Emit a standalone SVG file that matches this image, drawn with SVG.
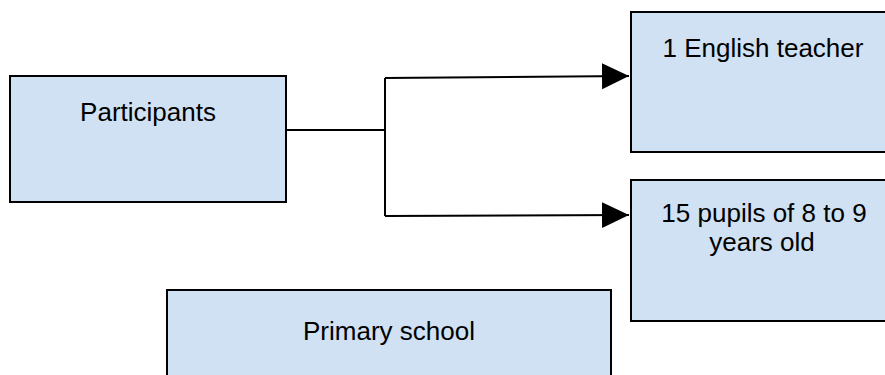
<svg xmlns="http://www.w3.org/2000/svg" width="885" height="375" viewBox="0 0 885 375">
  <style>
    .box { fill: #cfe1f3; stroke: #000; stroke-width: 2; }
    .label { font-family: "Liberation Sans", Arial, sans-serif; font-size: 26px; fill: #000; text-anchor: middle; }
    .wire { fill: none; stroke: #000; stroke-width: 2; }
  </style>
  <defs>
    <marker id="arrow" markerUnits="userSpaceOnUse" markerWidth="27" markerHeight="27" refX="27" refY="13" orient="auto">
      <path d="M0,0 L27,13 L0,26 Z" fill="#000"/>
    </marker>
  </defs>

  <g id="participants">
    <rect class="box" x="10" y="76" width="276" height="126"/>
    <text class="label" x="148" y="121">Participants</text>
  </g>

  <g id="teacher">
    <rect class="box" x="631" y="12" width="270" height="140"/>
    <text class="label" x="763" y="57">1 English teacher</text>
  </g>

  <g id="pupils">
    <rect class="box" x="631" y="180" width="270" height="141"/>
    <text class="label" x="764" y="222">15 pupils of 8 to 9</text>
    <text class="label" x="762" y="251">years old</text>
  </g>

  <g id="primary-school">
    <rect class="box" x="167" y="290" width="444" height="100"/>
    <text class="label" x="389" y="340">Primary school</text>
  </g>

  <g id="connectors">
    <path class="wire" d="M286,130 H385"/>
    <path class="wire" d="M385,78 V216"/>
    <path class="wire" d="M385,78 L629,76" marker-end="url(#arrow)"/>
    <path class="wire" d="M385,216 L629,215" marker-end="url(#arrow)"/>
  </g>
</svg>
